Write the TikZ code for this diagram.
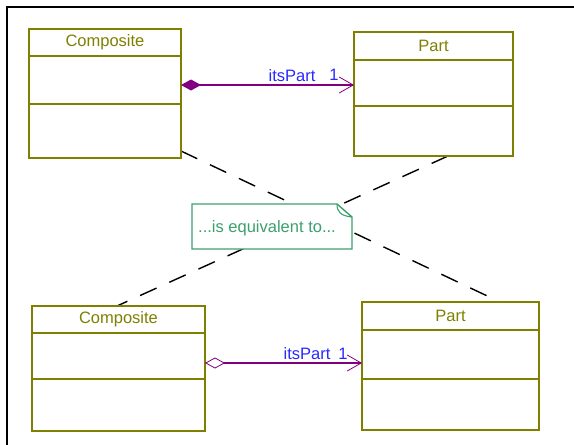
\documentclass[tikz,border=0pt]{standalone}
\usepackage{fontspec}
\setmainfont{Liberation Sans}
\usetikzlibrary{arrows.meta,calc}
\definecolor{olivec}{RGB}{128,128,0}
\definecolor{assocc}{RGB}{128,0,128}
\definecolor{labelc}{RGB}{40,40,255}
\definecolor{notec}{RGB}{60,160,110}
\tikzset{
  clsbox/.style={draw=olivec, line width=2.6pt, fill=white, rectangle, inner sep=0pt, outer sep=0pt, anchor=north west},
  clsline/.style={draw=olivec, line width=2.4pt},
  clstext/.style={text=olivec, font=\fontsize{16.5}{19}\selectfont, inner sep=0pt},
  assoc/.style={draw=assocc, line width=2.2pt},
  assoclabel/.style={text=labelc, font=\fontsize{16.5}{19}\selectfont, inner sep=0pt},
  equivline/.style={draw=black, line width=1.4pt, dash pattern=on 18pt off 14pt},
  notetext/.style={text=notec, font=\fontsize{16.5}{19}\selectfont, inner sep=0pt},
  noteshape/.style={draw=notec, line width=1.4pt, fill=white, line join=miter},
  frameline/.style={draw=black, line width=2.6pt}
}
\begin{document}
\begin{tikzpicture}[x=1pt,y=-1pt]
\useasboundingbox (0,0) rectangle (574,445);
% frame
\draw[frameline] (7,445) -- (7,7) -- (574,7);
% dashed "equivalence" lines
\coordinate (d1a) at (181,151);
\coordinate (d1b) at (500,302);
\coordinate (d2a) at (448,156);
\coordinate (d2b) at (117,306);
\draw[equivline] (d1a) -- (d1b);
\draw[equivline] (d2a) -- (d2b);
% top classes
\node[clsbox, minimum width=152pt, minimum height=129pt] (compT) at (29,29) {};
\draw[clsline] (compT.west |- 0,56) -- (compT.east |- 0,56);
\draw[clsline] (compT.west |- 0,104) -- (compT.east |- 0,104);
\node[clstext] (compTname) at (105,42.5) {Composite};
\node[clsbox, minimum width=159pt, minimum height=124pt] (partT) at (354,32) {};
\draw[clsline] (partT.west |- 0,60) -- (partT.east |- 0,60);
\draw[clsline] (partT.west |- 0,106) -- (partT.east |- 0,106);
\node[clstext] (partTname) at (433.5,46) {Part};
% bottom classes
\node[clsbox, minimum width=173pt, minimum height=125pt] (compB) at (32,306) {};
\draw[clsline] (compB.west |- 0,333) -- (compB.east |- 0,333);
\draw[clsline] (compB.west |- 0,379) -- (compB.east |- 0,379);
\node[clstext] (compBname) at (118.5,319.5) {Composite};
\node[clsbox, minimum width=177pt, minimum height=128pt] (partB) at (362,302) {};
\draw[clsline] (partB.west |- 0,330) -- (partB.east |- 0,330);
\draw[clsline] (partB.west |- 0,379) -- (partB.east |- 0,379);
\node[clstext] (partBname) at (450.5,316) {Part};
% associations
\draw[assoc, {Diamond[length=20pt,width=11pt,fill=assocc]}-{Straight Barb[length=14pt,width=16pt,line width=0.8pt]}]
  (compT.east |- 0,85) -- (partT.west |- 0,85);
\node[assoclabel] (lblT) at (292,76) {itsPart};
\node[assoclabel] (mulT) at (334,75) {1};
\draw[assoc, {Diamond[open,length=20pt,width=11pt,line width=0.8pt,fill=white]}-{Straight Barb[length=14pt,width=16pt,line width=0.8pt]}]
  (compB.east |- 0,363) -- (partB.west |- 0,363);
\node[assoclabel] (lblB) at (307,354) {itsPart};
\node[assoclabel] (mulB) at (343,354) {1};
% note
\draw[noteshape] (192,204) -- (337,204) -- (352,217) -- (352,249) -- (192,249) -- cycle;
\draw[draw=notec, line width=1.1pt] (337,204) .. controls (337,212) and (341,216) .. (352,217);
\node[notetext] (note) at (267,228) {...is equivalent to...};
\end{tikzpicture}
\end{document}
